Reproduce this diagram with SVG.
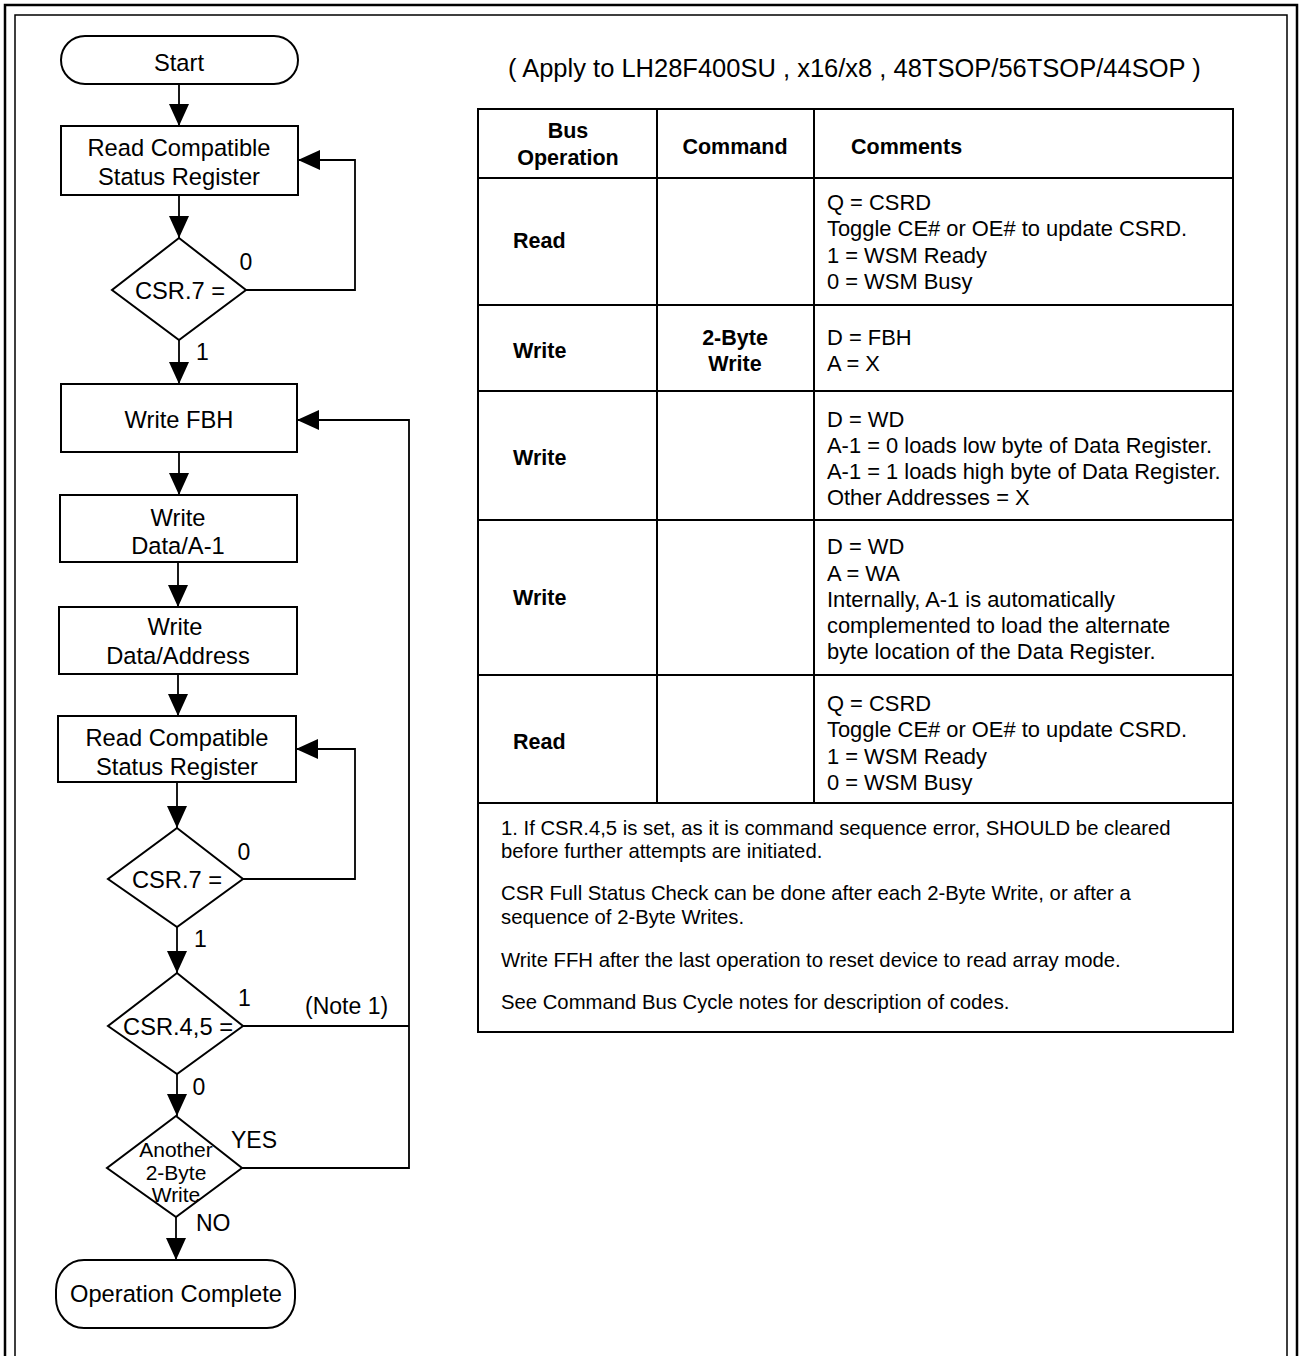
<svg xmlns="http://www.w3.org/2000/svg" width="1301" height="1356" viewBox="0 0 1301 1356">
<style>
.frame{fill:none;stroke:#000}
.node{fill:#fff;stroke:#000;stroke-width:2}
.conn{fill:none;stroke:#000;stroke-width:1.8}
.grid{fill:none;stroke:#000;stroke-width:2}
text{font-family:"Liberation Sans",Arial,sans-serif;fill:#000}
.ft{font-size:23.7px;text-anchor:middle}
.fs{font-size:21px;text-anchor:middle}
.lb{font-size:23px}
.tt{font-size:25.5px}
.th{font-size:21.5px;font-weight:bold}
.tc{font-size:21.9px}
.tn{font-size:20.3px}
.mid{text-anchor:middle}
</style>
<defs>
<marker id="ah" markerUnits="userSpaceOnUse" markerWidth="22" markerHeight="20" refX="22" refY="10" orient="auto">
<path d="M0,0 L22,10 L0,20 Z" fill="#000"/>
</marker>
</defs>
<rect width="1301" height="1356" fill="#fff"/>
<g id="frame">
<path class="frame" stroke-width="2.5" d="M5,1356 V5 H1297 V1356"/>
<path class="frame" stroke-width="1.5" d="M15,1356 V15 H1287 V1356"/>
</g>
<g id="connectors">
<path class="conn" d="M179,84 V126" marker-end="url(#ah)"/>
<path class="conn" d="M179,195 V238" marker-end="url(#ah)"/>
<path class="conn" d="M246,290 H355 V160 H298" marker-end="url(#ah)"/>
<path class="conn" d="M179,340 V384" marker-end="url(#ah)"/>
<path class="conn" d="M179,452 V495" marker-end="url(#ah)"/>
<path class="conn" d="M178,562 V607" marker-end="url(#ah)"/>
<path class="conn" d="M178,674 V716" marker-end="url(#ah)"/>
<path class="conn" d="M177,782 V828" marker-end="url(#ah)"/>
<path class="conn" d="M243,879 H355 V749 H296" marker-end="url(#ah)"/>
<path class="conn" d="M177,927 V973" marker-end="url(#ah)"/>
<path class="conn" d="M243,1026 H409"/>
<path class="conn" d="M177,1074 V1116" marker-end="url(#ah)"/>
<path class="conn" d="M242,1168 H409 V420 H297" marker-end="url(#ah)"/>
<path class="conn" d="M176,1217 V1260" marker-end="url(#ah)"/>
</g>
<g id="start">
<rect class="node" x="61" y="36" width="237" height="48" rx="24" ry="24"/>
<text class="ft" x="179" y="70.5">Start</text>
</g>
<g id="read-csr-1">
<rect class="node" x="61" y="126" width="237" height="69"/>
<text class="ft" x="179" y="155.5">Read Compatible</text>
<text class="ft" x="179" y="184.5">Status Register</text>
</g>
<g id="csr7-1">
<polygon class="node" points="179,238 246,290 179,340 112,290"/>
<text class="ft" x="180" y="298.5">CSR.7 =</text>
</g>
<g id="write-fbh">
<rect class="node" x="61" y="384" width="236" height="68"/>
<text class="ft" x="179" y="427.5">Write FBH</text>
</g>
<g id="write-data-a1">
<rect class="node" x="60" y="495" width="237" height="67"/>
<text class="ft" x="178" y="525.5">Write</text>
<text class="ft" x="178" y="553.5">Data/A-1</text>
</g>
<g id="write-data-address">
<rect class="node" x="59" y="607" width="238" height="67"/>
<text class="ft" x="175" y="634.5">Write</text>
<text class="ft" x="178" y="663.5">Data/Address</text>
</g>
<g id="read-csr-2">
<rect class="node" x="58" y="716" width="238" height="66"/>
<text class="ft" x="177" y="745.5">Read Compatible</text>
<text class="ft" x="177" y="774.5">Status Register</text>
</g>
<g id="csr7-2">
<polygon class="node" points="177,828 243,879 177,927 108,879"/>
<text class="ft" x="177" y="887.5">CSR.7 =</text>
</g>
<g id="csr45">
<polygon class="node" points="177,973 243,1026 177,1074 108,1026"/>
<text class="ft" x="178" y="1034.5">CSR.4,5 =</text>
</g>
<g id="another">
<polygon class="node" points="176,1116 242,1168 176,1217 107,1168"/>
<text class="fs" x="176" y="1156.5">Another</text>
<text class="fs" x="176" y="1179.5">2-Byte</text>
<text class="fs" x="176" y="1201.5">Write</text>
</g>
<g id="complete">
<rect class="node" x="56" y="1260" width="239" height="68" rx="28" ry="30"/>
<text class="ft" x="176" y="1301.5">Operation Complete</text>
</g>
<g id="labels">
<text class="lb mid" x="246" y="270">0</text>
<text class="lb" x="196" y="360">1</text>
<text class="lb mid" x="244" y="860">0</text>
<text class="lb" x="194" y="947">1</text>
<text class="lb" x="238" y="1006">1</text>
<text class="lb" x="305" y="1014">(Note 1)</text>
<text class="lb mid" x="199" y="1095">0</text>
<text class="lb" x="231" y="1148">YES</text>
<text class="lb" x="196" y="1231">NO</text>
</g>
<g id="title">
<text class="tt" x="508" y="77">( Apply to LH28F400SU , x16/x8 , 48TSOP/56TSOP/44SOP )</text>
</g>
<g id="table">
<rect class="grid" x="478" y="109" width="755" height="923"/>
<path class="grid" d="M478,178 H1233 M478,305 H1233 M478,391 H1233 M478,520 H1233 M478,675 H1233 M478,803 H1233 M657,109 V803 M814,109 V803"/>
<text class="th mid" x="568" y="137.7">Bus</text>
<text class="th mid" x="568" y="164.7">Operation</text>
<text class="th mid" x="735" y="153.7">Command</text>
<text class="th" x="851" y="153.7">Comments</text>
<text class="th" x="513" y="247.7">Read</text>
<text class="tc" x="827" y="209.8">Q = CSRD</text>
<text class="tc" x="827" y="235.8">Toggle CE# or OE# to update CSRD.</text>
<text class="tc" x="827" y="262.8">1 = WSM Ready</text>
<text class="tc" x="827" y="288.8">0 = WSM Busy</text>
<text class="th" x="513" y="357.7">Write</text>
<text class="th mid" x="735" y="344.7">2-Byte</text>
<text class="th mid" x="735" y="370.7">Write</text>
<text class="tc" x="827" y="344.8">D = FBH</text>
<text class="tc" x="827" y="370.8">A = X</text>
<text class="th" x="513" y="464.7">Write</text>
<text class="tc" x="827" y="426.8">D = WD</text>
<text class="tc" x="827" y="452.8">A-1 = 0 loads low byte of Data Register.</text>
<text class="tc" x="827" y="478.8">A-1 = 1 loads high byte of Data Register.</text>
<text class="tc" x="827" y="504.8">Other Addresses = X</text>
<text class="th" x="513" y="604.7">Write</text>
<text class="tc" x="827" y="553.8">D = WD</text>
<text class="tc" x="827" y="580.8">A = WA</text>
<text class="tc" x="827" y="606.8">Internally, A-1 is automatically</text>
<text class="tc" x="827" y="632.8">complemented to load the alternate</text>
<text class="tc" x="827" y="658.8">byte location of the Data Register.</text>
<text class="th" x="513" y="748.7">Read</text>
<text class="tc" x="827" y="710.8">Q = CSRD</text>
<text class="tc" x="827" y="736.8">Toggle CE# or OE# to update CSRD.</text>
<text class="tc" x="827" y="763.8">1 = WSM Ready</text>
<text class="tc" x="827" y="789.8">0 = WSM Busy</text>
<text class="tn" x="501" y="835.3">1. If CSR.4,5 is set, as it is command sequence error, SHOULD be cleared</text>
<text class="tn" x="501" y="858.3">before further attempts are initiated.</text>
<text class="tn" x="501" y="900.3">CSR Full Status Check can be done after each 2-Byte Write, or after a</text>
<text class="tn" x="501" y="924.3">sequence of 2-Byte Writes.</text>
<text class="tn" x="501" y="967.3">Write FFH after the last operation to reset device to read array mode.</text>
<text class="tn" x="501" y="1009.3">See Command Bus Cycle notes for description of codes.</text>
</g>
</svg>
